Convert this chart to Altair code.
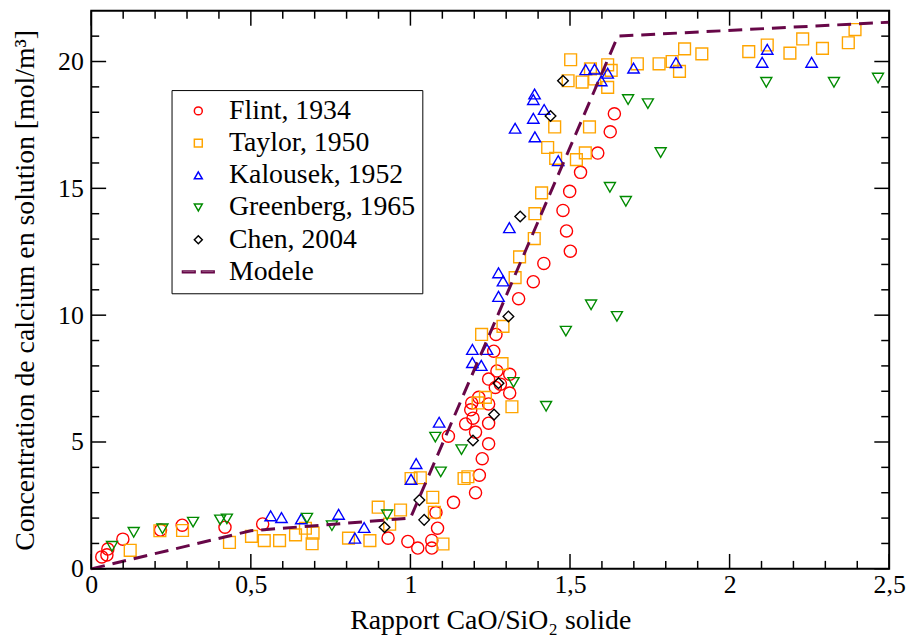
import altair as alt
import pandas as pd

# ---------------- data ----------------
flint_x = [0.033, 0.049, 0.052, 0.099, 0.217, 0.285, 0.419, 0.537, 0.930, 0.992, 1.023, 1.067,
           1.067, 1.080, 1.085, 1.135, 1.204, 1.216, 1.225, 1.245, 1.204, 1.173, 1.196, 1.245,
           1.119, 1.189, 1.192, 1.245, 1.214, 1.245, 1.266, 1.282, 1.311, 1.271, 1.311, 1.261,
           1.268, 1.339, 1.385, 1.418, 1.501, 1.489, 1.478, 1.499, 1.533, 1.587, 1.626, 1.639]
flint_y = [0.47, 0.55, 0.78, 1.17, 1.53, 1.72, 1.64, 1.77, 1.21, 1.08, 0.82, 1.12,
           0.82, 2.22, 1.60, 2.62, 3.00, 3.69, 4.34, 4.93, 5.39, 5.71, 5.94, 5.74,
           5.23, 6.27, 6.54, 6.50, 6.76, 7.48, 7.15, 7.28, 6.93, 7.80, 7.67, 8.58,
           9.24, 10.65, 11.32, 12.04, 12.52, 13.32, 14.13, 14.88, 15.63, 16.39, 17.23, 17.94]

taylor_x = [0.122, 0.215, 0.286, 0.433, 0.502, 0.542, 0.590, 0.640, 0.671, 0.695, 0.692, 0.806,
            0.873, 0.899, 0.935, 0.969, 1.002, 1.031, 1.070, 1.075, 1.102, 1.168, 1.180, 1.212,
            1.235, 1.318, 1.287, 1.223, 1.290, 1.328, 1.342, 1.388, 1.390, 1.411, 1.430, 1.452,
            1.455, 1.520, 1.548, 1.561, 1.494, 1.502, 1.538, 1.564, 1.577, 1.618, 1.629, 1.618,
            1.711, 1.779, 1.820, 1.843, 1.859, 1.913, 2.060, 2.118, 2.189, 2.229, 2.291, 2.372, 2.393]
taylor_y = [0.73, 1.50, 1.51, 1.04, 1.28, 1.11, 1.11, 1.34, 1.60, 1.41, 0.99, 1.21,
            1.11, 2.43, 1.76, 2.32, 3.56, 3.59, 2.82, 2.23, 0.98, 3.56, 3.63, 6.54,
            6.76, 6.39, 8.09, 9.24, 9.56, 11.48, 12.30, 13.02, 14.00, 14.82, 16.61, 17.42,
            16.18, 16.13, 16.40, 17.42, 19.24, 20.07, 19.19, 19.71, 19.31, 19.87, 19.65, 18.98,
            19.91, 19.91, 20.00, 19.61, 20.50, 20.30, 20.39, 20.65, 20.33, 20.89, 20.52, 20.74, 21.26]

kalousek_x = [0.562, 0.596, 0.658, 0.775, 0.855, 0.826, 1.002, 1.018, 1.090, 1.194, 1.240, 1.194,
              1.222, 1.276, 1.290, 1.276, 1.310, 1.328, 1.389, 1.385, 1.419, 1.385, 1.390, 1.463,
              1.549, 1.577, 1.598, 1.618, 1.699, 1.832, 2.102, 2.118, 2.257]
kalousek_y = [2.09, 2.02, 1.97, 2.15, 1.63, 1.21, 3.53, 4.15, 5.78, 8.65, 8.65, 8.13,
              8.02, 11.67, 11.35, 10.74, 13.45, 17.37, 18.72, 18.50, 18.11, 17.76, 17.03, 16.09,
              19.68, 19.70, 19.24, 19.54, 19.74, 19.96, 19.97, 20.48, 19.97]

greenberg_x = [0.065, 0.133, 0.223, 0.319, 0.404, 0.425, 0.676, 0.754, 0.927, 1.095, 1.160, 1.078,
               1.323, 1.425, 1.566, 1.647, 1.487, 1.682, 1.744, 1.784, 1.625, 1.675, 2.115, 2.327, 2.465]
greenberg_y = [0.89, 1.44, 1.58, 1.84, 1.93, 1.97, 2.00, 1.70, 2.13, 3.82, 4.70, 5.19,
               7.35, 6.41, 10.41, 9.95, 9.37, 18.50, 18.34, 16.41, 15.04, 14.49, 19.18, 19.18, 19.35]

chen_x = [0.919, 1.028, 1.043, 1.196, 1.262, 1.276, 1.307, 1.344, 1.439, 1.478]
chen_y = [1.64, 2.71, 1.93, 5.06, 6.08, 7.32, 9.95, 13.89, 17.85, 19.24]

model_x = [0.0, 0.5, 1.0, 1.65, 2.5]
model_y = [0.0, 1.5, 2.0, 21.0, 21.55]

series = ["Flint, 1934", "Taylor, 1950", "Kalousek, 1952", "Greenberg, 1965", "Chen, 2004", "Modele"]
colors = ["#ff0000", "#ffa500", "#0000ff", "#008b00", "#000000", "#670748"]
shapes = ["circle", "square", "triangle-up", "triangle-down", "diamond",
          "M-4,-0.22L-0.8,-0.22L-0.8,0.22L-4,0.22ZM0.8,-0.22L4,-0.22L4,0.22L0.8,0.22Z"]
sizes = [150, 115, 155, 155, 115]

x_labels = [0, 0.5, 1, 1.5, 2, 2.5]
x_minor = [0.1, 0.2, 0.3, 0.4, 0.6, 0.7, 0.8, 0.9, 1.1, 1.2, 1.3, 1.4,
           1.6, 1.7, 1.8, 1.9, 2.1, 2.2, 2.3, 2.4]
y_labels = [0, 5, 10, 15, 20]
y_minor = [1, 2, 3, 4, 6, 7, 8, 9, 11, 12, 13, 14, 16, 17, 18, 19, 21]

# ---------------- build ----------------
W, H = 805, 563
FONT = "Liberation Serif"
MAJ, MIN = 15, 8

rows = []
for name, xs, ys in [(series[0], flint_x, flint_y), (series[1], taylor_x, taylor_y),
                     (series[2], kalousek_x, kalousek_y), (series[3], greenberg_x, greenberg_y),
                     (series[4], chen_x, chen_y)]:
    rows += [{"x": a, "y": b, "series": name} for a, b in zip(xs, ys)]
pts = pd.DataFrame(rows)
model = pd.DataFrame({"x": model_x, "y": model_y})

xscale = alt.Scale(domain=[0, 2.5], nice=False, zero=False)
yscale = alt.Scale(domain=[0, 22], nice=False, zero=False)

common_axis = dict(ticks=False, domain=False, grid=False, labelFont=FONT, labelFontSize=26,
                   labelColor="black", titleFont=FONT, titleFontSize=28, titleFontWeight="normal",
                   titleColor="black", labelFlush=False)
xaxis = alt.Axis(values=x_labels, labelExpr="replace(format(datum.value, '~g'), '.', ',')",
                 labelPadding=3, titlePadding=9, title="Rapport CaO/SiO₂ solide", **common_axis)
yaxis = alt.Axis(values=y_labels, labelPadding=8, titlePadding=18,
                 title="Concentration de calcium en solution [mol/m³]", **common_axis)

enc_x = alt.X("x:Q", scale=xscale, axis=xaxis)
enc_y = alt.Y("y:Q", scale=yscale, axis=yaxis)

legend = alt.Legend(title=None, orient="none", legendX=81, legendY=80, labelFont=FONT,
                    labelFontSize=28, labelColor="black", labelLimit=400, symbolSize=64,
                    symbolStrokeWidth=1.5, strokeColor="black", fillColor="white", padding=7,
                    rowPadding=4.5, symbolOffset=6, labelOffset=17)

points = alt.Chart(pts).mark_point(filled=False, strokeWidth=1.4, opacity=1).encode(
    x=enc_x, y=enc_y,
    color=alt.Color("series:N", scale=alt.Scale(domain=series, range=colors), legend=legend),
    shape=alt.Shape("series:N", scale=alt.Scale(domain=series, range=shapes), legend=legend),
    size=alt.Size("series:N", scale=alt.Scale(domain=series[:5], range=sizes), legend=None),
)

line = alt.Chart(model).mark_line(color="#670748", strokeWidth=3, strokeDash=[14, 8]).encode(
    x=enc_x, y=enc_y)


def xticks(vals, y0, y1):
    return alt.Chart(pd.DataFrame({"x": vals})).mark_rule(color="black", strokeWidth=1.5).encode(
        x=enc_x, y=alt.value(y0), y2=alt.value(y1))


def yticks(vals, x0, x1):
    return alt.Chart(pd.DataFrame({"y": vals})).mark_rule(color="black", strokeWidth=1.5).encode(
        y=enc_y, x=alt.value(x0), x2=alt.value(x1))


ticks = [
    xticks(x_labels, H, H - MAJ), xticks(x_minor, H, H - MIN),
    xticks(x_labels, 0, MAJ), xticks(x_minor, 0, MIN),
    yticks(y_labels, 0, MAJ), yticks(y_minor, 0, MIN),
    yticks(y_labels, W, W - MAJ), yticks(y_minor, W, W - MIN),
]

chart = alt.layer(points, line, *ticks).properties(
    width=W, height=H,
    padding={"left": 84, "top": 0, "right": 20, "bottom": 69},
    autosize=alt.AutoSizeParams(type="none"),
    background="white",
).configure_view(stroke="black", strokeWidth=2)

chart.save("out.html", embed_options={"renderer": "svg", "actions": False})
